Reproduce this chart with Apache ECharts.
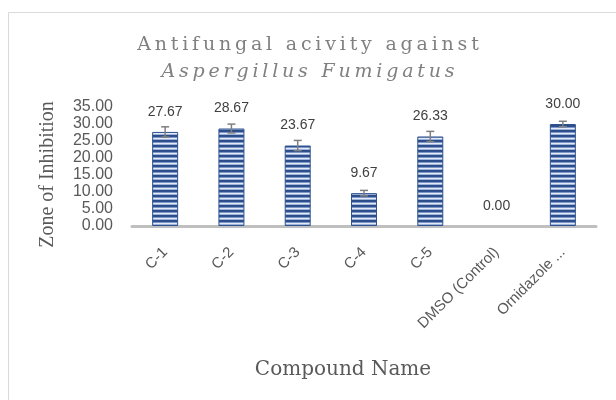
<!DOCTYPE html>
<html>
<head>
<meta charset="utf-8">
<script src="https://cdn.jsdelivr.net/npm/echarts@6/dist/echarts.min.js"></script>
<style>
  html, body { margin: 0; padding: 0; background: #fff; }
  #main { width: 616px; height: 400px; }
</style>
</head>
<body>
<div id="main"></div>
<script>
var categories = ['C-1', 'C-2', 'C-3', 'C-4', 'C-5', 'DMSO (Control)', 'Ornidazole ...'];
var zoneValues = [27.67, 28.67, 23.67, 9.67, 26.33, 0.00, 30.00];
var zoneErrors = [1.5, 1.3, 1.5, 0.8, 1.5, 0, 0.8];
var yTicks = [0, 5, 10, 15, 20, 25, 30, 35];

var chart = echarts.init(document.getElementById('main'));

// striped fill like the excel pattern
var stripe = document.createElement('canvas');
stripe.width = 8;
stripe.height = 5;
var sctx = stripe.getContext('2d');
var rows = ['#2b4c86', '#2e5090', '#7d97c6', '#e3eaf6', '#9fb4da'];
rows.forEach(function (c, i) {
    sctx.fillStyle = c;
    sctx.fillRect(0, i, 8, 1);
});

// the title is letter-spaced, do it with one rich token per char
function spaced(str, key) {
    return str.split('').map(function (c) {
        return '{' + key + '|' + c + '}';
    }).join('');
}

var errData = zoneValues.map(function (v, i) {
    return [i, v - zoneErrors[i], v + zoneErrors[i]];
});

var barData = zoneValues.map(function (v) {
    return v === 0 ? { value: v, itemStyle: { borderWidth: 0 } } : v;
});

chart.setOption({
    title: {
        text: spaced('Antifungal acivity against', 'n') + '\n' + spaced('Aspergillus Fumigatus', 'i'),
        left: 'center',
        top: 27,
        textStyle: {
            fontFamily: 'DejaVu Serif',
            fontSize: 19,
            fontWeight: 'normal',
            color: '#808080',
            lineHeight: 27,
            rich: {
                n: {
                    fontFamily: 'DejaVu Serif',
                    fontSize: 19,
                    color: '#808080',
                    lineHeight: 27,
                    padding: [0, 1.9]
                },
                i: {
                    fontFamily: 'DejaVu Serif',
                    fontStyle: 'italic',
                    fontSize: 19,
                    color: '#808080',
                    lineHeight: 27,
                    padding: [0, 1.9]
                }
            }
        }
    },
    graphic: [{
        type: 'rect',
        shape: { x: 8.5, y: 12.5, width: 640, height: 420 },
        style: { fill: 'none', stroke: '#d9d9d9', lineWidth: 1 },
        silent: true
    }],
    grid: { left: 132, right: 20, top: 107, bottom: 174 },
    xAxis: {
        type: 'category',
        data: categories,
        name: 'Compound Name',
        nameLocation: 'middle',
        nameGap: 134,
        nameTextStyle: {
            fontFamily: 'DejaVu Serif',
            fontSize: 20,
            color: '#595959',
            padding: [0, 42, 0, 0]
        },
        axisLine: { lineStyle: { color: '#bfbfbf', width: 3 } },
        axisTick: { show: false },
        axisLabel: {
            rotate: 45,
            interval: 0,
            margin: 24,
            fontFamily: 'Liberation Sans',
            fontSize: 15,
            color: '#595959'
        }
    },
    yAxis: {
        type: 'value',
        min: 0,
        max: 35,
        interval: 5,
        name: 'Zone of Inhibition',
        nameLocation: 'middle',
        nameGap: 74,
        nameTextStyle: {
            fontFamily: 'Liberation Serif',
            fontSize: 20,
            color: '#595959',
            padding: [0, 0, 0, -16]
        },
        axisLine: { show: false },
        axisTick: { show: false },
        splitLine: { show: false },
        axisLabel: {
            margin: 19,
            fontFamily: 'Liberation Sans',
            fontSize: 16,
            color: '#595959',
            formatter: function (v) { return v.toFixed(2); }
        }
    },
    series: [{
        type: 'bar',
        data: barData,
        barWidth: 26,
        itemStyle: {
            color: { image: stripe, repeat: 'repeat' },
            borderColor: '#2f528f',
            borderWidth: 1
        },
        label: {
            show: true,
            position: 'top',
            distance: 13,
            fontFamily: 'Liberation Sans',
            fontSize: 14,
            color: '#404040',
            formatter: function (p) { return p.value.toFixed(2); }
        },
        z: 2
    }, {
        type: 'custom',
        data: errData,
        z: 3,
        renderItem: function (params, api) {
            var x = api.coord([api.value(0), 0])[0];
            var lo = api.coord([api.value(0), api.value(1)])[1];
            var hi = api.coord([api.value(0), api.value(2)])[1];
            if (Math.abs(hi - lo) < 0.5) return;
            var hw = 4;
            var st = { stroke: '#7f7f7f', lineWidth: 1.5 };
            return {
                type: 'group',
                children: [
                    { type: 'line', shape: { x1: x, y1: hi, x2: x, y2: lo }, style: st },
                    { type: 'line', shape: { x1: x - hw, y1: hi, x2: x + hw, y2: hi }, style: st },
                    { type: 'line', shape: { x1: x - hw, y1: lo, x2: x + hw, y2: lo }, style: st }
                ]
            };
        }
    }]
});
</script>
</body>
</html>
